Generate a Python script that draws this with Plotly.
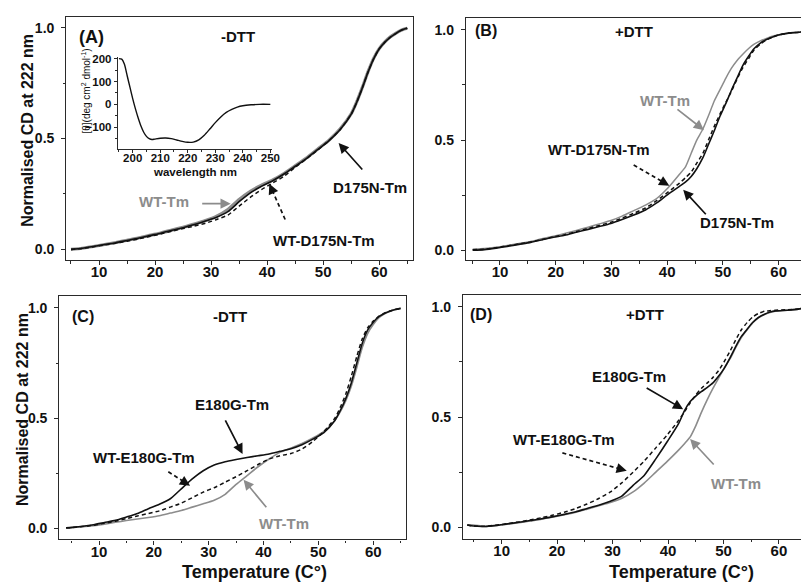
import plotly.graph_objects as go

# ---------------- data ----------------
T_A = [5,7,9,11,13,15,17,19,21,23,25,27,29,31,33,35,37,39,41,43,45,47,49,51,53,55,56,57,58,59,60,61,62,63,64,65]
A_D175N = [0.0,0.005,0.013,0.022,0.03,0.04,0.05,0.062,0.073,0.086,0.098,0.112,0.128,0.145,0.17,0.215,0.255,0.285,0.31,0.34,
           0.375,0.41,0.45,0.49,0.54,0.61,0.665,0.73,0.8,0.86,0.905,0.935,0.958,0.975,0.99,0.998]
A_WT = [0.0,0.005,0.013,0.022,0.031,0.041,0.051,0.063,0.074,0.087,0.1,0.114,0.13,0.15,0.18,0.225,0.262,0.29,0.313,0.342,
        0.377,0.412,0.452,0.492,0.543,0.612,0.667,0.732,0.802,0.862,0.906,0.936,0.959,0.976,0.99,0.998]
A_WT_D175N = [0.0,0.004,0.012,0.02,0.028,0.037,0.047,0.058,0.069,0.082,0.094,0.105,0.118,0.135,0.155,0.195,0.235,0.27,0.3,0.33,
              0.37,0.408,0.448,0.49,0.54,0.61,0.665,0.73,0.8,0.86,0.905,0.935,0.958,0.975,0.99,0.998]

T_B = [5.1,7.2,9.3,11.3,13.4,15.5,17.5,19.6,21.6,23.7,25.8,27.8,29.9,31.9,34.0,36.1,38.1,40.2,42.2,43.3,44.3,45.3,46.4,
       47.4,48.4,49.5,50.5,51.5,52.5,53.6,54.6,55.6,56.7,57.7,58.7,59.8,61.8,63.9,65]
B_D175N = [0.0,0.003,0.01,0.018,0.027,0.036,0.047,0.059,0.068,0.082,0.095,0.108,0.122,0.14,0.16,0.183,0.215,0.255,0.29,
           0.31,0.335,0.37,0.42,0.48,0.54,0.61,0.665,0.725,0.78,0.84,0.88,0.915,0.94,0.955,0.965,0.975,0.985,0.99,1.0]
B_WT = [0.005,0.008,0.014,0.022,0.031,0.04,0.052,0.064,0.076,0.09,0.105,0.12,0.135,0.155,0.18,0.205,0.235,0.285,0.345,
        0.38,0.44,0.5,0.55,0.61,0.675,0.73,0.78,0.825,0.86,0.89,0.915,0.935,0.95,0.96,0.97,0.977,0.985,0.99,1.0]
B_WT_D175N = [0.003,0.005,0.012,0.02,0.029,0.038,0.049,0.061,0.071,0.085,0.099,0.113,0.127,0.146,0.168,0.192,0.225,0.265,0.305,
              0.33,0.355,0.395,0.44,0.5,0.56,0.62,0.67,0.72,0.775,0.83,0.87,0.91,0.935,0.953,0.965,0.975,0.985,0.99,1.0]

T_C = [4,5,7,9,11,13,15,17,19,21,23,25,27,29,31,33,35,37,39,41,43,45,47,49,51,53,54,55,56,57,58,59,60,61,62,63,64,65]
C_E180G = [0.003,0.005,0.01,0.017,0.027,0.037,0.052,0.068,0.09,0.11,0.135,0.18,0.225,0.262,0.288,0.303,0.313,0.322,0.33,0.338,
           0.35,0.362,0.38,0.405,0.435,0.49,0.535,0.59,0.66,0.75,0.84,0.9,0.935,0.96,0.975,0.985,0.993,0.998]
C_WT = [0.003,0.003,0.008,0.013,0.02,0.028,0.036,0.043,0.05,0.058,0.07,0.082,0.097,0.112,0.128,0.155,0.2,0.24,0.28,0.315,
        0.345,0.365,0.385,0.41,0.44,0.49,0.53,0.58,0.645,0.73,0.82,0.885,0.925,0.955,0.972,0.984,0.993,0.998]
C_WT_E180G = [0.003,0.004,0.009,0.015,0.024,0.033,0.045,0.057,0.068,0.08,0.097,0.115,0.14,0.165,0.185,0.21,0.235,0.262,0.29,0.315,
              0.33,0.34,0.36,0.395,0.44,0.5,0.55,0.61,0.69,0.78,0.86,0.91,0.94,0.962,0.976,0.986,0.993,0.998]

T_D = [3.8,4.9,6.9,9.0,11.0,13.1,15.1,17.2,19.3,21.3,23.4,25.4,27.5,29.6,31.6,33.7,35.7,37.8,39.9,41.9,43.0,44.0,45.0,
       46.0,47.1,48.1,49.1,50.1,51.2,52.2,53.2,54.3,55.3,56.3,57.4,58.4,59.4,61.5,63.5,65]
D_E180G = [0.01,0.005,0.003,0.008,0.015,0.022,0.03,0.038,0.048,0.058,0.07,0.085,0.1,0.118,0.14,0.19,0.235,0.31,0.39,0.47,
           0.53,0.57,0.595,0.615,0.635,0.655,0.685,0.72,0.77,0.82,0.865,0.9,0.93,0.952,0.967,0.977,0.982,0.985,0.99,0.998]
D_WT = [0.01,0.01,0.003,0.007,0.013,0.02,0.028,0.036,0.046,0.056,0.068,0.082,0.097,0.112,0.13,0.16,0.2,0.25,0.3,0.35,
        0.38,0.41,0.46,0.52,0.58,0.63,0.675,0.72,0.765,0.815,0.86,0.897,0.928,0.95,0.965,0.975,0.98,0.985,0.99,0.998]
D_WT_E180G = [0.01,0.005,0.004,0.009,0.016,0.024,0.033,0.043,0.055,0.068,0.085,0.105,0.13,0.16,0.2,0.25,0.3,0.36,0.42,0.485,
              0.525,0.565,0.6,0.63,0.655,0.68,0.71,0.75,0.8,0.85,0.895,0.93,0.955,0.97,0.98,0.983,0.985,0.987,0.99,0.998]

WAVELENGTH = [195,196,197,198,199,200,201,202,203,204,205,206,207,208,210,212,214,216,218,220,222,224,226,228,230,232,234,236,238,240,243,246,250]
ELLIPTICITY = [200,198,175,125,75,25,-20,-60,-95,-122,-140,-150,-154,-152,-148,-147,-150,-156,-162,-166,-165,-155,-135,-108,-80,-55,-35,-22,-12,-6,-2,0,0]

X_TICKS = [10, 20, 30, 40, 50, 60]
Y_TICKS = [0.0, 0.5, 1.0]

# ---------------- figure ----------------
W, H = 809, 586
def px(x): return x / W
def py(y): return 1 - y / H

FONT = "Liberation Sans, Arial, sans-serif"
BLACK = "#111111"
GRAY = "#8c8c8c"
FRAME = "#2a2a2a"

fig = go.Figure()

def add(xa, ya, T, V, color, width, dash=None):
    fig.add_trace(go.Scatter(x=T, y=V, xaxis=xa, yaxis=ya, mode="lines",
                             line=dict(color=color, width=width, dash=dash, shape="spline", smoothing=0.6),
                             showlegend=False, hoverinfo="skip"))

DASH = "4px,3px"
add("x", "y", T_A, A_WT, GRAY, 3.2)
add("x", "y", T_A, A_WT_D175N, BLACK, 1.5, DASH)
add("x", "y", T_A, A_D175N, BLACK, 1.6)

add("x2", "y2", T_B, B_WT, GRAY, 1.5)
add("x2", "y2", T_B, B_WT_D175N, BLACK, 1.5, DASH)
add("x2", "y2", T_B, B_D175N, BLACK, 1.6)

add("x3", "y3", T_C, C_WT, GRAY, 1.6)
add("x3", "y3", T_C, C_WT_E180G, BLACK, 1.5, DASH)
add("x3", "y3", T_C, C_E180G, BLACK, 1.6)

add("x4", "y4", T_D, D_WT, GRAY, 1.6)
add("x4", "y4", T_D, D_WT_E180G, BLACK, 1.5, DASH)
add("x4", "y4", T_D, D_E180G, BLACK, 1.6)

add("x5", "y5", WAVELENGTH, ELLIPTICITY, BLACK, 1.4)

def xax(domain, rng, anchor):
    return dict(domain=domain, range=rng, anchor=anchor, showline=True, linecolor=FRAME, linewidth=1.4,
                mirror=True, ticks="outside", ticklen=4, tickwidth=1.2, tickcolor=FRAME,
                tickvals=X_TICKS, ticktext=[str(v) for v in X_TICKS],
                minor=dict(dtick=5, tick0=0, ticks="outside", ticklen=2.5, tickcolor=FRAME, tickwidth=1),
                tickfont=dict(family=FONT, size=15, color=BLACK, weight="bold"),
                showgrid=False, zeroline=False, ticklabelstandoff=-6)

def yax(domain, rng, anchor, mirror):
    return dict(domain=domain, range=rng, anchor=anchor, showline=True, linecolor=FRAME, linewidth=1.4,
                mirror=mirror, ticks="outside", ticklen=4, tickwidth=1.2, tickcolor=FRAME,
                tickvals=Y_TICKS, ticktext=["%.1f" % v for v in Y_TICKS],
                minor=dict(dtick=0.25, tick0=0, ticks="outside", ticklen=2.5, tickcolor=FRAME, tickwidth=1),
                tickfont=dict(family=FONT, size=14, color=BLACK, weight="bold"),
                showgrid=False, zeroline=False, ticklabelstandoff=4)

fig.update_layout(
    width=W, height=H, margin=dict(l=0, r=0, t=0, b=0),
    paper_bgcolor="white", plot_bgcolor="white", showlegend=False,
    xaxis=xax([px(67), px(417)], [4.17, 66.0], "y"),
    yaxis=yax([py(258), py(13)], [-0.049, 1.049], "x", True),
    xaxis2=xax([px(470.7), 1.0], [3.91, 64.0], "y2"),
    yaxis2=yax([py(258), py(14)], [-0.045, 1.054], "x2", False),
    xaxis3=xax([px(60), px(410)], [2.78, 65.96], "y3"),
    yaxis3=yax([py(539), py(294)], [-0.049, 1.054], "x3", True),
    xaxis4=xax([px(467.7), 1.0], [3.04, 63.98], "y4"),
    yaxis4=yax([py(538.3), py(293)], [-0.052, 1.054], "x4", False),
    xaxis5=dict(domain=[px(119), px(275)], range=[194.6, 250.7], anchor="y5", showline=True,
                linecolor=FRAME, linewidth=1.1, mirror=False, ticks="outside", ticklen=3, tickcolor=FRAME,
                tickvals=[200, 210, 220, 230, 240, 250],
                minor=dict(dtick=5, tick0=0, ticks="outside", ticklen=2, tickcolor=FRAME),
                tickfont=dict(family=FONT, size=11.5, color=BLACK, weight="bold"),
                showgrid=False, zeroline=False, ticklabelstandoff=-5),
    yaxis5=dict(domain=[py(145.7), py(53)], range=[-194, 208.7], anchor="x5", showline=True,
                linecolor=FRAME, linewidth=1.1, mirror=False, ticks="outside", ticklen=3, tickcolor=FRAME,
                tickvals=[-100, 0, 100, 200],
                minor=dict(dtick=50, tick0=0, ticks="outside", ticklen=2, tickcolor=FRAME),
                tickfont=dict(family=FONT, size=11.5, color=BLACK, weight="bold"),
                showgrid=False, zeroline=False, ticklabelstandoff=0),
)

def label(x, y, text, size=15, color=BLACK, bold=True, angle=0):
    fig.add_annotation(x=px(x), y=py(y), xref="paper", yref="paper", text=text, showarrow=False,
                       xanchor="center", yanchor="middle", textangle=angle,
                       font=dict(family=FONT, size=size, color=color, weight="bold" if bold else "normal"))

def arrow(x0, y0, x1, y1, color=BLACK, dashed=False):
    if not dashed:
        fig.add_annotation(x=px(x1), y=py(y1), xref="paper", yref="paper", ax=x0 - x1, ay=y0 - y1,
                           text="", showarrow=True, arrowhead=2, arrowsize=1.2, arrowwidth=1.7, arrowcolor=color)
    else:
        dx, dy = x1 - x0, y1 - y0
        L = (dx * dx + dy * dy) ** 0.5
        ux, uy = dx / L, dy / L
        hx, hy = x1 - ux * 9, y1 - uy * 9
        fig.add_shape(type="line", xref="paper", yref="paper", x0=px(x0), y0=py(y0), x1=px(hx), y1=py(hy),
                      line=dict(color=color, width=1.7, dash="4px,3px"))
        fig.add_annotation(x=px(x1), y=py(y1), xref="paper", yref="paper", ax=hx - x1, ay=hy - y1,
                           text="", showarrow=True, arrowhead=2, arrowsize=1.2, arrowwidth=1.7, arrowcolor=color)

# Panel A
label(92, 33, "(A)", 18)
label(240, 33, "-DTT", 15)
label(166, 199, "WT-Tm", 15, GRAY)
label(327, 238, "WT-D175N-Tm", 15)
label(374, 185, "D175N-Tm", 15)
arrow(203, 201, 233, 201, GRAY)
arrow(288, 217, 272, 181, BLACK, True)
arrow(367, 168, 342, 140)
label(87, 88, "[θ](deg cm<sup>2</sup> dmol<sup>-1</sup>)", 10, BLACK, False, -90)
label(197, 169, "wavelength nm", 11.5)

# Panel B
label(491, 27, "(B)", 16)
label(640, 28, "+DTT", 15)
label(672, 97, "WT-Tm", 15, GRAY)
label(605, 147, "WT-D175N-Tm", 15)
label(744, 220, "D175N-Tm", 15)
arrow(683, 105, 711, 127, GRAY)
arrow(640, 162, 676, 183, BLACK, True)
arrow(714, 213, 690, 187)

# Panel C
label(84, 315, "(C)", 16)
label(232, 315, "-DTT", 15)
label(234, 403, "E180G-Tm", 15)
label(145, 457, "WT-E180G-Tm", 15)
label(287, 523, "WT-Tm", 15, GRAY)
arrow(227, 418, 245, 453)
arrow(170, 471, 192, 485, BLACK, True)
arrow(270, 508, 246, 479, GRAY)

# Panel D
label(486, 313, "(D)", 16)
label(651, 313, "+DTT", 15)
label(635, 375, "E180G-Tm", 15)
label(570, 438, "WT-E180G-Tm", 15)
label(743, 483, "WT-Tm", 15, GRAY)
arrow(652, 386, 690, 408)
arrow(568, 452, 633, 470, BLACK, True)
arrow(722, 465, 697, 438, GRAY)

# Axis titles
label(27, 127, "Normalised CD at 222 nm", 16, angle=-90)
label(22, 408, "Normalised CD at 222 nm", 16, angle=-90)
label(257, 572, "Temperature (C°)", 18)
label(688, 572, "Temperature (C°)", 18)

fig.write_html("out.html", config={"displayModeBar": False},
               post_script="document.body.style.margin='0';document.body.style.overflow='hidden';")
